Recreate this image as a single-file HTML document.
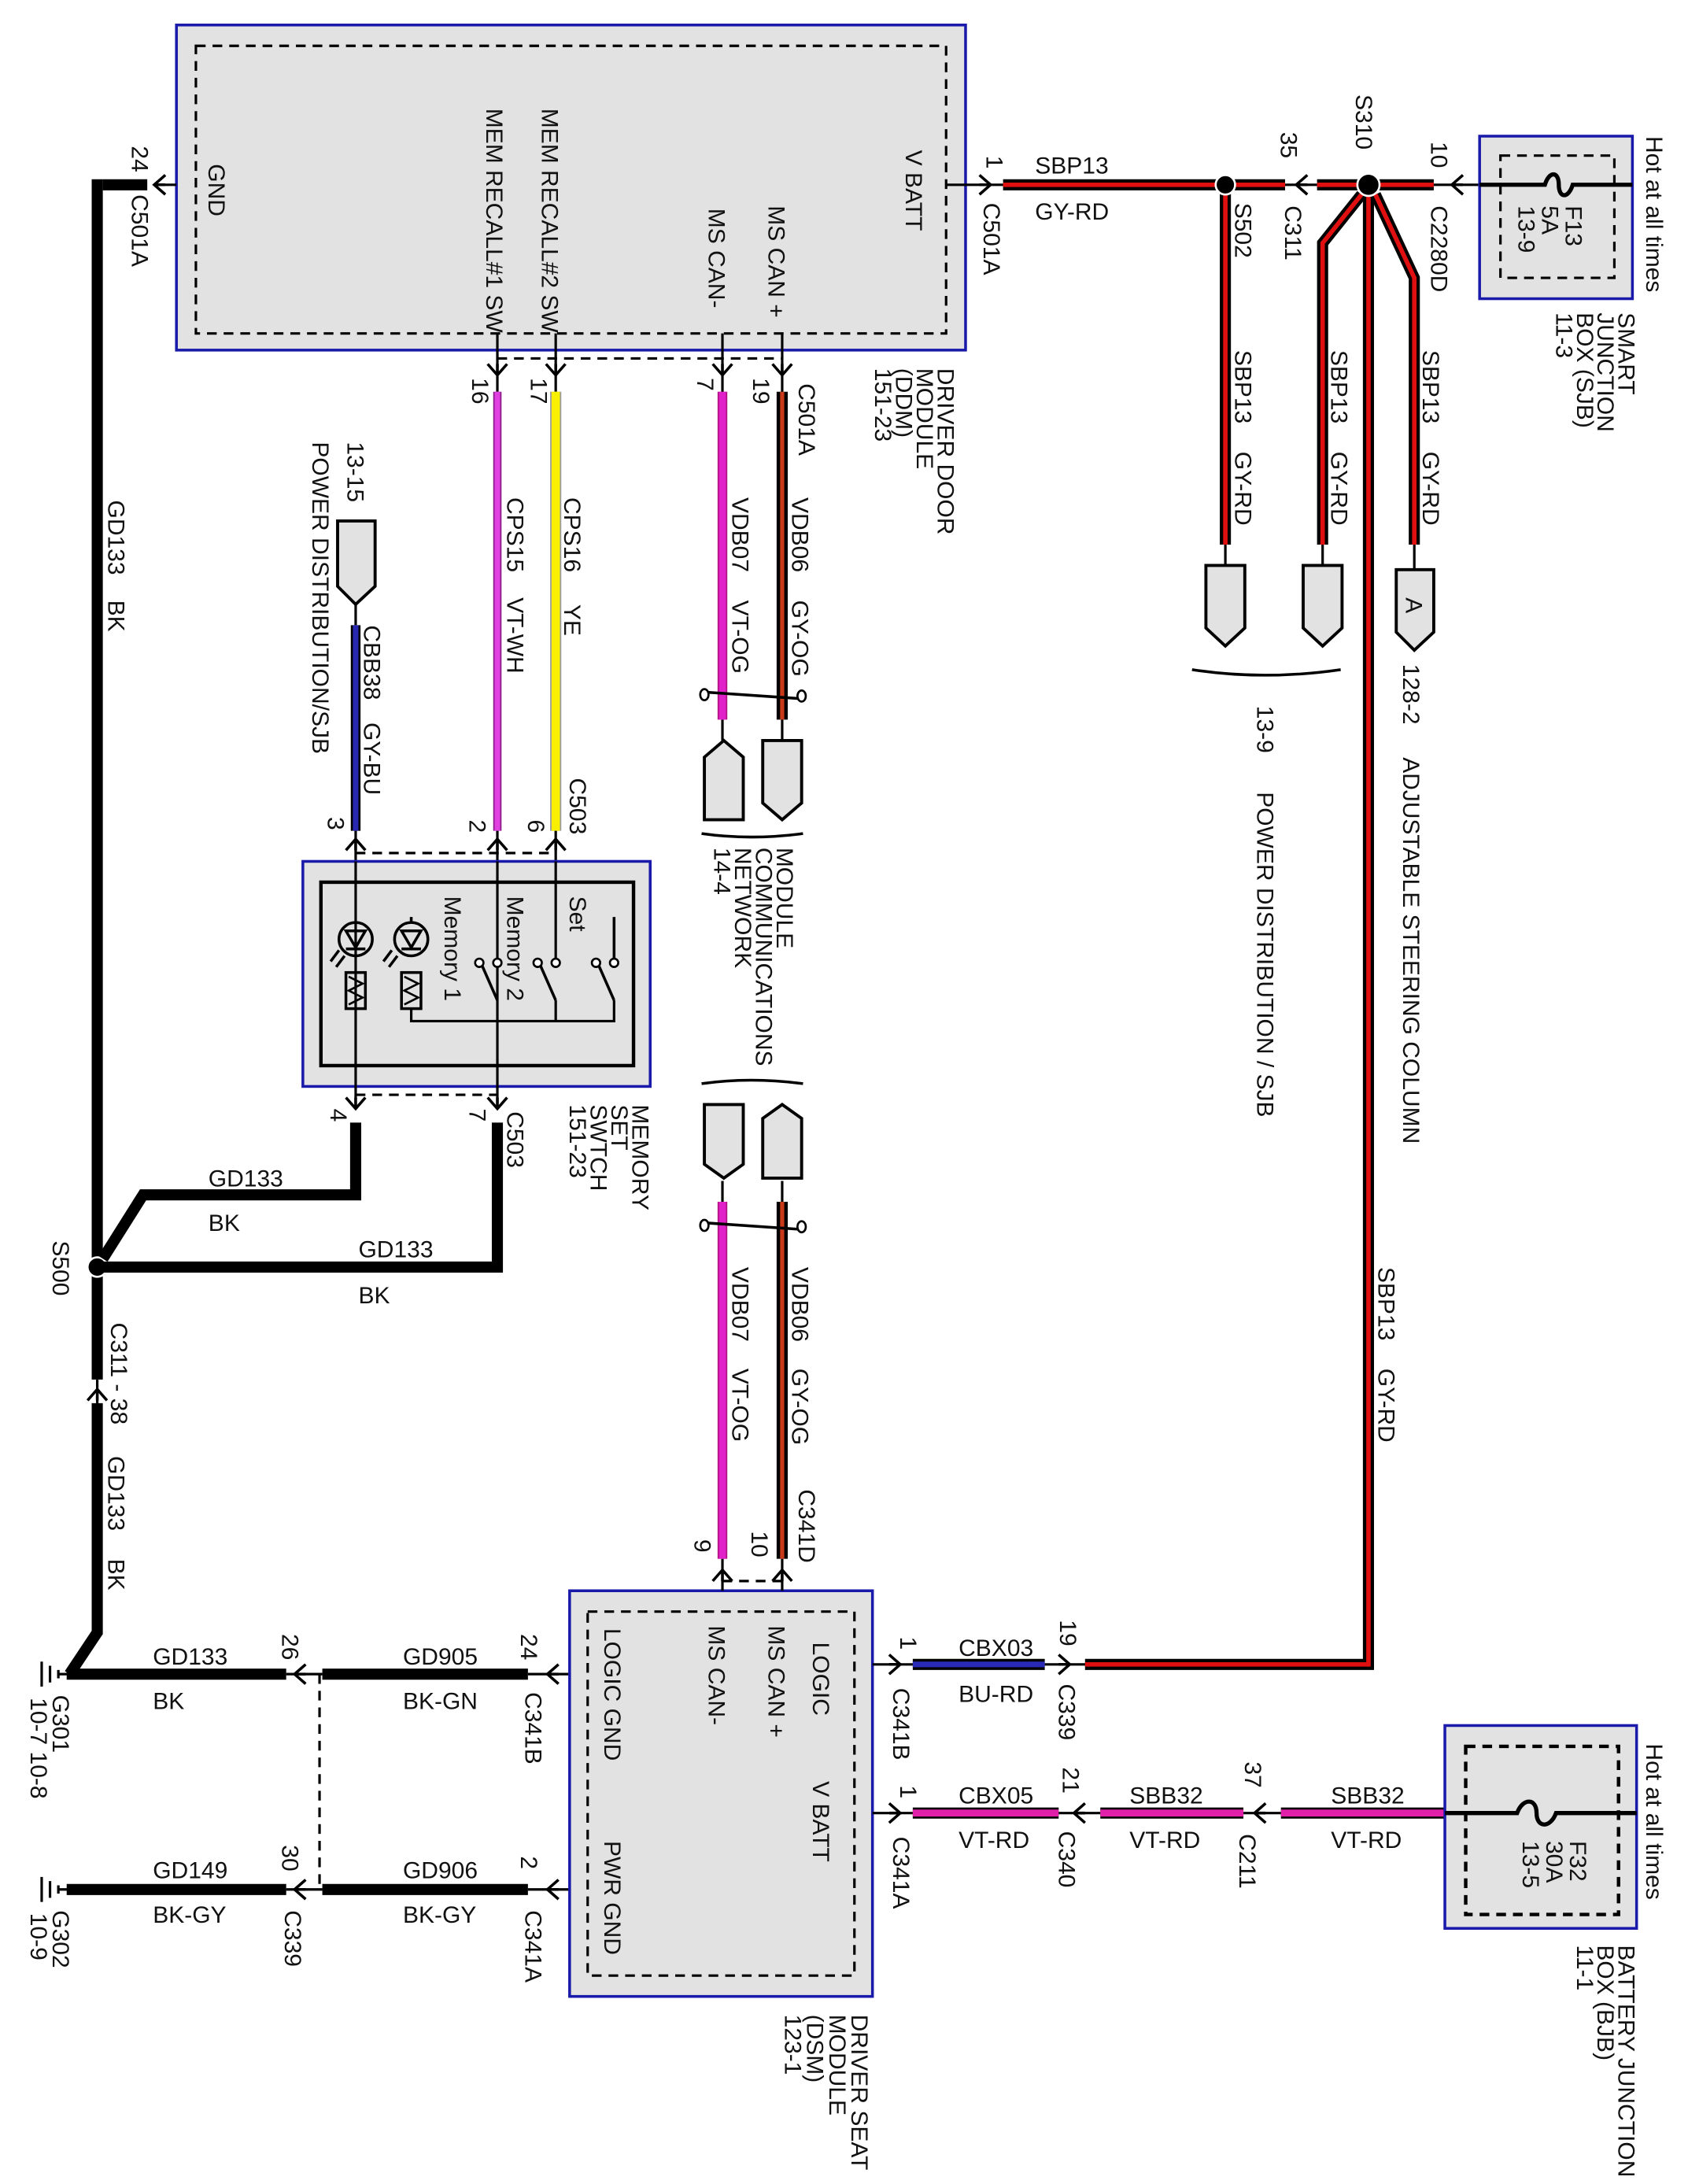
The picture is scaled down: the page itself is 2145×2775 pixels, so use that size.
<!DOCTYPE html>
<html><head><meta charset="utf-8"><style>
html,body{margin:0;padding:0;background:#fff}
svg{display:block}
text{font-family:"Liberation Sans",sans-serif;font-size:17px;fill:#111}
.b{fill:none;stroke:#000;stroke-width:8;stroke-linejoin:miter}
.t{fill:none;stroke:#000;stroke-width:1.8}
.r{fill:none;stroke:#e01010;stroke-width:3.2;stroke-linejoin:miter}
.box{fill:#e2e2e2;stroke:#1a1aaa;stroke-width:2}
.dash{fill:none;stroke:#000;stroke-width:1.8;stroke-dasharray:7 5}
.con{fill:#e2e2e2;stroke:#000;stroke-width:2.2}
</style></head><body>
<svg width="2145" height="2775" viewBox="0 0 1215 1572" preserveAspectRatio="none" xmlns="http://www.w3.org/2000/svg">
<defs>
<g id="cl"><path d="M-6,-7 L2,0 L-6,7 M2,0 L-6,0" fill="none" stroke="#000" stroke-width="2"/></g>
</defs>
<rect width="1215" height="1572" fill="#fff"/>

<!-- DDM -->
<rect class="box" x="127" y="18" width="568" height="234"/>
<rect class="dash" x="141" y="33" width="540" height="207"/>
<g transform="translate(150,118) rotate(90)"><text>GND</text></g>
<g transform="translate(350,78) rotate(90)"><text>MEM RECALL#1 SW</text></g>
<g transform="translate(390,78) rotate(90)"><text>MEM RECALL#2 SW</text></g>
<g transform="translate(510,150) rotate(90)"><text>MS CAN-</text></g>
<g transform="translate(553,148) rotate(90)"><text>MS CAN +</text></g>
<g transform="translate(652,108) rotate(90)"><text>V BATT</text></g>
<g transform="translate(675,265) rotate(90)"><text>DRIVER DOOR</text></g>
<g transform="translate(660,265) rotate(90)"><text>MODULE</text></g>
<g transform="translate(645,265) rotate(90)"><text>(DDM)</text></g>
<g transform="translate(630,265) rotate(90)"><text>151-23</text></g>

<!-- GND left -->
<path class="t" d="M113,133 L127,133"/>
<g transform="translate(113,133) rotate(180)"><use href="#cl"/></g>
<path class="b" d="M74,133 L106,133"/>
<g transform="translate(95,105) rotate(90)"><text>24</text></g>
<g transform="translate(95,140) rotate(90)"><text>C501A</text></g>
<path class="b" d="M70,129 L70,993"/>
<path class="b" d="M70,1010 L70,1175 L50,1205"/>
<path class="t" d="M70,993 L70,1010"/>
<g transform="translate(70,1002) rotate(-90)"><use href="#cl"/></g>
<g transform="translate(78,360) rotate(90)"><text>GD133</text></g>
<g transform="translate(78,432) rotate(90)"><text>BK</text></g>
<g transform="translate(38,893) rotate(90)"><text>S500</text></g>
<g transform="translate(80,952) rotate(90)"><text>C311 - 38</text></g>
<g transform="translate(78,1048) rotate(90)"><text>GD133</text></g>
<g transform="translate(78,1122) rotate(90)"><text>BK</text></g>
<circle cx="70" cy="912" r="7" fill="#000" stroke="#fff" stroke-width="1.5"/>
<path class="b" d="M74,906 L103,860 L256,860 L256,808"/>
<path class="b" d="M74,912 L358,912 L358,808"/>
<text x="150" y="854">GD133</text><text x="150" y="886">BK</text>
<text x="258" y="905">GD133</text><text x="258" y="938">BK</text>

<!-- Grounds -->
<path class="t" d="M30,1196 L30,1214 M36,1199 L36,1211 M42,1202 L42,1208 M42,1205 L50,1205"/>
<path class="t" d="M30,1351 L30,1369 M36,1354 L36,1366 M42,1357 L42,1363 M42,1360 L50,1360"/>
<g transform="translate(38,1220) rotate(90)"><text>G301</text></g>
<g transform="translate(22,1222) rotate(90)"><text>10-7  10-8</text></g>
<g transform="translate(38,1375) rotate(90)"><text>G302</text></g>
<g transform="translate(22,1377) rotate(90)"><text>10-9</text></g>
<path class="b" d="M48,1205 L206,1205"/>
<path class="t" d="M206,1205 L232,1205"/>
<g transform="translate(214,1205) rotate(180)"><use href="#cl"/></g>
<path class="b" d="M232,1205 L380,1205"/>
<path class="t" d="M380,1205 L410,1205"/>
<g transform="translate(396,1205) rotate(180)"><use href="#cl"/></g>
<text x="110" y="1198">GD133</text><text x="110" y="1230">BK</text>
<text x="290" y="1198">GD905</text><text x="290" y="1230">BK-GN</text>
<g transform="translate(203,1176) rotate(90)"><text>26</text></g>
<g transform="translate(375,1176) rotate(90)"><text>24</text></g>
<g transform="translate(378,1218) rotate(90)"><text>C341B</text></g>
<path class="b" d="M48,1360 L206,1360"/>
<path class="t" d="M206,1360 L232,1360"/>
<g transform="translate(214,1360) rotate(180)"><use href="#cl"/></g>
<path class="b" d="M232,1360 L380,1360"/>
<path class="t" d="M380,1360 L410,1360"/>
<g transform="translate(396,1360) rotate(180)"><use href="#cl"/></g>
<text x="110" y="1352">GD149</text><text x="110" y="1384">BK-GY</text>
<text x="290" y="1352">GD906</text><text x="290" y="1384">BK-GY</text>
<g transform="translate(203,1328) rotate(90)"><text>30</text></g>
<g transform="translate(205,1375) rotate(90)"><text>C339</text></g>
<g transform="translate(375,1336) rotate(90)"><text>2</text></g>
<g transform="translate(378,1375) rotate(90)"><text>C341A</text></g>
<path class="dash" d="M230,1205 L230,1360"/>

<!-- DSM -->
<rect class="box" x="410" y="1145" width="218" height="292"/>
<rect class="dash" x="423" y="1160" width="192" height="262"/>
<g transform="translate(435,1172) rotate(90)"><text>LOGIC GND</text></g>
<g transform="translate(510,1170) rotate(90)"><text>MS CAN-</text></g>
<g transform="translate(553,1170) rotate(90)"><text>MS CAN +</text></g>
<g transform="translate(585,1182) rotate(90)"><text>LOGIC</text></g>
<g transform="translate(585,1282) rotate(90)"><text>V BATT</text></g>
<g transform="translate(435,1325) rotate(90)"><text>PWR GND</text></g>
<g transform="translate(613,1450) rotate(90)"><text>DRIVER SEAT</text></g>
<g transform="translate(597,1450) rotate(90)"><text>MODULE</text></g>
<g transform="translate(581,1450) rotate(90)"><text>(DSM)</text></g>
<g transform="translate(565,1450) rotate(90)"><text>123-1</text></g>

<!-- LOGIC wire -->
<path class="t" d="M628,1198 L657,1198"/>
<use href="#cl" transform="translate(646,1198)"/>
<g transform="translate(648,1178) rotate(90)"><text>1</text></g>
<g transform="translate(643,1215) rotate(90)"><text>C341B</text></g>
<path d="M657,1198 L752,1198" stroke="#000" stroke-width="8"/>
<path d="M657,1198 L752,1198" stroke="#2a2ab8" stroke-width="4"/>
<text x="690" y="1192">CBX03</text><text x="690" y="1225">BU-RD</text>
<path class="t" d="M752,1198 L782,1198"/>
<use href="#cl" transform="translate(768,1198)"/>
<g transform="translate(763,1166) rotate(90)"><text>19</text></g>
<g transform="translate(762,1212) rotate(90)"><text>C339</text></g>
<path class="b" d="M781,1198 L985,1198 L985,133"/>
<path class="r" d="M781,1198 L985,1198 L985,140"/>
<g transform="translate(992,912) rotate(90)"><text>SBP13</text></g>
<g transform="translate(992,985) rotate(90)"><text>GY-RD</text></g>

<!-- V BATT DSM -->
<path class="t" d="M628,1305 L657,1305"/>
<use href="#cl" transform="translate(646,1305)"/>
<g transform="translate(648,1285) rotate(90)"><text>1</text></g>
<g transform="translate(643,1322) rotate(90)"><text>C341A</text></g>
<path d="M657,1305 L762,1305" stroke="#000" stroke-width="8"/>
<path d="M657,1305 L762,1305" stroke="#e020a8" stroke-width="5"/>
<text x="690" y="1298">CBX05</text><text x="690" y="1330">VT-RD</text>
<path class="t" d="M762,1305 L792,1305"/>
<g transform="translate(775,1305) rotate(180)"><use href="#cl"/></g>
<g transform="translate(765,1272) rotate(90)"><text>21</text></g>
<g transform="translate(762,1318) rotate(90)"><text>C340</text></g>
<path d="M792,1305 L895,1305" stroke="#000" stroke-width="8"/>
<path d="M792,1305 L895,1305" stroke="#e020a8" stroke-width="5"/>
<text x="813" y="1298">SBB32</text><text x="813" y="1330">VT-RD</text>
<path class="t" d="M895,1305 L922,1305"/>
<g transform="translate(905,1305) rotate(180)"><use href="#cl"/></g>
<g transform="translate(896,1268) rotate(90)"><text>37</text></g>
<g transform="translate(892,1320) rotate(90)"><text>C211</text></g>
<path d="M922,1305 L1040,1305" stroke="#000" stroke-width="8"/>
<path d="M922,1305 L1040,1305" stroke="#e020a8" stroke-width="5"/>
<text x="958" y="1298">SBB32</text><text x="958" y="1330">VT-RD</text>

<!-- BJB -->
<rect class="box" x="1040" y="1242" width="138" height="146"/>
<rect class="dash" x="1055" y="1257" width="110" height="121" style="stroke-width:2.5"/>
<path d="M1040,1305 L1092,1305 C1096,1294 1106,1294 1106,1305 C1106,1316 1116,1316 1120,1305 L1178,1305" fill="none" stroke="#000" stroke-width="3"/>
<g transform="translate(1130,1325) rotate(90)"><text>F32</text></g>
<g transform="translate(1113,1325) rotate(90)"><text>30A</text></g>
<g transform="translate(1096,1325) rotate(90)"><text>13-5</text></g>
<g transform="translate(1185,1255) rotate(90)"><text>Hot at all times</text></g>
<g transform="translate(1165,1400) rotate(90)"><text>BATTERY JUNCTION</text></g>
<g transform="translate(1150,1400) rotate(90)"><text>BOX (BJB)</text></g>
<g transform="translate(1135,1400) rotate(90)"><text>11-1</text></g>

<!-- DSM top pins -->
<path class="t" d="M520,1122 L520,1145 M563,1122 L563,1145"/>
<g transform="translate(520,1132) rotate(-90)"><use href="#cl"/></g>
<g transform="translate(563,1132) rotate(-90)"><use href="#cl"/></g>
<path class="dash" d="M520,1138 L563,1138"/>
<g transform="translate(500,1108) rotate(90)"><text>9</text></g>
<g transform="translate(541,1102) rotate(90)"><text>10</text></g>
<g transform="translate(575,1072) rotate(90)"><text>C341D</text></g>

<!-- lower VDB wires -->
<path d="M520,865 L520,1122" stroke="#b01080" stroke-width="7"/>
<path d="M520,865 L520,1122" stroke="#e020c8" stroke-width="5"/>
<path d="M563,865 L563,1122" stroke="#000" stroke-width="8"/>
<path d="M563,865 L563,1122" stroke="#c83a1a" stroke-width="3"/>
<path class="t" d="M520,850 L520,865 M563,850 L563,865"/>
<path d="M505,880 L578,885" stroke="#000" stroke-width="2" fill="none"/>
<ellipse cx="507" cy="882" rx="3" ry="4" fill="#fff" stroke="#000" stroke-width="1.5"/>
<ellipse cx="577" cy="883" rx="3" ry="4" fill="#fff" stroke="#000" stroke-width="1.5"/>
<g transform="translate(527,912) rotate(90)"><text>VDB07</text></g>
<g transform="translate(527,985) rotate(90)"><text>VT-OG</text></g>
<g transform="translate(570,912) rotate(90)"><text>VDB06</text></g>
<g transform="translate(570,985) rotate(90)"><text>GY-OG</text></g>
<path class="con" d="M507,795 L535,795 L535,838 L521,848 L507,838 Z"/>
<path class="con" d="M549,805 L563,795 L577,805 L577,848 L549,848 Z"/>
<path d="M505,780 Q540,775 578,780" fill="none" stroke="#000" stroke-width="2"/>

<!-- MCN labels -->
<g transform="translate(559,610) rotate(90)"><text>MODULE</text></g>
<g transform="translate(544,610) rotate(90)"><text>COMMUNICATIONS</text></g>
<g transform="translate(529,610) rotate(90)"><text>NETWORK</text></g>
<g transform="translate(514,610) rotate(90)"><text>14-4</text></g>
<path d="M505,600 Q540,605 578,600" fill="none" stroke="#000" stroke-width="2"/>
<path class="con" d="M507,545 L521,533 L535,545 L535,590 L507,590 Z"/>
<path class="con" d="M549,533 L577,533 L577,578 L563,590 L549,578 Z"/>
<path class="t" d="M520,518 L520,533 M563,518 L563,533"/>

<!-- upper VDB wires -->
<path d="M520,282 L520,518" stroke="#b01080" stroke-width="7"/>
<path d="M520,282 L520,518" stroke="#e020c8" stroke-width="5"/>
<path d="M563,282 L563,518" stroke="#000" stroke-width="8"/>
<path d="M563,282 L563,518" stroke="#c83a1a" stroke-width="3"/>
<path d="M505,498 L578,503" stroke="#000" stroke-width="2" fill="none"/>
<ellipse cx="507" cy="500" rx="3" ry="4" fill="#fff" stroke="#000" stroke-width="1.5"/>
<ellipse cx="577" cy="501" rx="3" ry="4" fill="#fff" stroke="#000" stroke-width="1.5"/>
<g transform="translate(527,358) rotate(90)"><text>VDB07</text></g>
<g transform="translate(527,432) rotate(90)"><text>VT-OG</text></g>
<g transform="translate(570,358) rotate(90)"><text>VDB06</text></g>
<g transform="translate(570,432) rotate(90)"><text>GY-OG</text></g>

<!-- DDM bottom pins -->
<path class="t" d="M358,240 L358,282 M400,240 L400,282 M520,240 L520,282 M563,240 L563,282"/>
<g transform="translate(358,268) rotate(90)"><use href="#cl"/></g>
<g transform="translate(400,268) rotate(90)"><use href="#cl"/></g>
<g transform="translate(520,268) rotate(90)"><use href="#cl"/></g>
<g transform="translate(563,268) rotate(90)"><use href="#cl"/></g>
<path class="dash" d="M358,258 L563,258"/>
<g transform="translate(340,272) rotate(90)"><text>16</text></g>
<g transform="translate(382,272) rotate(90)"><text>17</text></g>
<g transform="translate(502,272) rotate(90)"><text>7</text></g>
<g transform="translate(542,272) rotate(90)"><text>19</text></g>
<g transform="translate(575,276) rotate(90)"><text>C501A</text></g>

<!-- CPS wires -->
<path d="M358,282 L358,598" stroke="#8a1a8a" stroke-width="6"/>
<path d="M358,282 L358,598" stroke="#e040e0" stroke-width="4"/>
<path d="M400,282 L400,598" stroke="#999" stroke-width="8"/>
<path d="M400,282 L400,598" stroke="#f8f000" stroke-width="6"/>
<g transform="translate(365,358) rotate(90)"><text>CPS15</text></g>
<g transform="translate(365,430) rotate(90)"><text>VT-WH</text></g>
<g transform="translate(406,358) rotate(90)"><text>CPS16</text></g>
<g transform="translate(406,435) rotate(90)"><text>YE</text></g>
<g transform="translate(410,560) rotate(90)"><text>C503</text></g>

<!-- CBB38 -->
<path class="con" d="M243,375 L270,375 L270,422 L256,435 L243,422 Z"/>
<path class="t" d="M256,435 L256,450"/>
<path d="M256,450 L256,598" stroke="#000" stroke-width="7"/>
<path d="M256,450 L256,598" stroke="#2828b0" stroke-width="4"/>
<g transform="translate(250,318) rotate(90)"><text>13-15</text></g>
<g transform="translate(225,318) rotate(90)"><text>POWER DISTRIBUTION/SJB</text></g>
<g transform="translate(262,450) rotate(90)"><text>CBB38</text></g>
<g transform="translate(262,520) rotate(90)"><text>GY-BU</text></g>

<!-- Memory switch top pins -->
<path class="t" d="M256,598 L256,635 M358,598 L358,635 M400,598 L400,635"/>
<g transform="translate(256,606) rotate(-90)"><use href="#cl"/></g>
<g transform="translate(358,606) rotate(-90)"><use href="#cl"/></g>
<g transform="translate(400,606) rotate(-90)"><use href="#cl"/></g>
<path class="dash" d="M256,614 L400,614"/>
<g transform="translate(236,588) rotate(90)"><text>3</text></g>
<g transform="translate(338,590) rotate(90)"><text>2</text></g>
<g transform="translate(380,590) rotate(90)"><text>6</text></g>

<!-- Memory switch -->
<rect class="box" x="218" y="620" width="250" height="162"/>
<rect x="231" y="635" width="225" height="132" fill="none" stroke="#000" stroke-width="2.5"/>
<path class="t" d="M256,620 L256,795 M358,620 L358,795 M400,620 L400,690"/>
<g transform="translate(320,645) rotate(90)"><text>Memory 1</text></g>
<g transform="translate(365,645) rotate(90)"><text>Memory 2</text></g>
<g transform="translate(410,645) rotate(90)"><text>Set</text></g>
<circle cx="256" cy="676" r="12" fill="none" stroke="#000" stroke-width="2"/>
<path d="M249,670 L263,670 L256,682 Z M249,683 L263,683" fill="none" stroke="#000" stroke-width="2"/>
<circle cx="296" cy="676" r="12" fill="none" stroke="#000" stroke-width="2"/>
<path d="M289,670 L303,670 L296,682 Z M289,683 L303,683 M296,660 L296,664" fill="none" stroke="#000" stroke-width="2"/>
<path d="M244,684 L238,692 M248,688 L242,696 M282,684 L276,692 M286,688 L280,696" stroke="#000" stroke-width="2"/>
<rect x="249" y="700" width="14" height="26" fill="none" stroke="#000" stroke-width="2"/>
<rect x="289" y="700" width="14" height="26" fill="none" stroke="#000" stroke-width="2"/>
<path d="M251,703 L261,708 L251,713 L261,718 L251,723 M291,703 L301,708 L291,713 L301,718 L291,723" fill="none" stroke="#000" stroke-width="1.5"/>
<path class="t" d="M296,726 L296,735 L442,735 L442,720 M400,735 L400,720"/>
<circle cx="358" cy="693" r="3" fill="#fff" stroke="#000" stroke-width="1.5"/>
<circle cx="345" cy="693" r="3" fill="#fff" stroke="#000" stroke-width="1.5"/>
<path d="M347,695 L358,720" stroke="#000" stroke-width="2"/>
<circle cx="400" cy="693" r="3" fill="#fff" stroke="#000" stroke-width="1.5"/>
<circle cx="387" cy="693" r="3" fill="#fff" stroke="#000" stroke-width="1.5"/>
<path d="M389,695 L400,720" stroke="#000" stroke-width="2"/>
<circle cx="442" cy="693" r="3" fill="#fff" stroke="#000" stroke-width="1.5"/>
<circle cx="429" cy="693" r="3" fill="#fff" stroke="#000" stroke-width="1.5"/>
<path d="M431,695 L442,720 M442,660 L442,690" stroke="#000" stroke-width="2"/>

<!-- Memory switch bottom -->
<path class="dash" d="M256,788 L358,788"/>
<g transform="translate(256,796) rotate(90)"><use href="#cl"/></g>
<g transform="translate(358,796) rotate(90)"><use href="#cl"/></g>
<g transform="translate(238,798) rotate(90)"><text>4</text></g>
<g transform="translate(338,798) rotate(90)"><text>7</text></g>
<g transform="translate(365,800) rotate(90)"><text>C503</text></g>
<g transform="translate(455,795) rotate(90)"><text>MEMORY</text></g>
<g transform="translate(440,795) rotate(90)"><text>SET</text></g>
<g transform="translate(425,795) rotate(90)"><text>SWTCH</text></g>
<g transform="translate(410,795) rotate(90)"><text>151-23</text></g>

<!-- V BATT top -->
<path class="t" d="M681,133 L722,133"/>
<use href="#cl" transform="translate(711,133)"/>
<g transform="translate(710,112) rotate(90)"><text>1</text></g>
<g transform="translate(708,146) rotate(90)"><text>C501A</text></g>
<path class="b" d="M722,133 L925,133"/>
<path class="r" d="M722,133 L925,133"/>
<text x="745" y="125">SBP13</text><text x="745" y="158">GY-RD</text>
<path class="t" d="M925,133 L948,133"/>
<g transform="translate(935,133) rotate(180)"><use href="#cl"/></g>
<g transform="translate(922,95) rotate(90)"><text>35</text></g>
<g transform="translate(925,148) rotate(90)"><text>C311</text></g>
<path class="b" d="M948,133 L1032,133"/>
<path class="r" d="M948,133 L1032,133"/>
<path class="t" d="M1032,133 L1175,133"/>
<g transform="translate(1047,133) rotate(180)"><use href="#cl"/></g>
<g transform="translate(1030,102) rotate(90)"><text>10</text></g>
<g transform="translate(1030,148) rotate(90)"><text>C2280D</text></g>
<path class="b" d="M882,133 L882,392"/>
<path class="r" d="M882,140 L882,392"/>
<circle cx="882" cy="133" r="7" fill="#000" stroke="#fff" stroke-width="1.5"/>
<g transform="translate(889,146) rotate(90)"><text>S502</text></g>
<g transform="translate(889,252) rotate(90)"><text>SBP13</text></g>
<g transform="translate(889,325) rotate(90)"><text>GY-RD</text></g>
<path class="b" d="M980,140 L952,175 L952,392"/>
<path class="r" d="M980,140 L952,175 L952,392"/>
<path class="b" d="M990,140 L1018,200 L1018,392"/>
<path class="r" d="M990,140 L1018,200 L1018,392"/>
<circle cx="985" cy="133" r="8" fill="#000" stroke="#fff" stroke-width="1.5"/>
<g transform="translate(976,68) rotate(90)"><text>S310</text></g>
<g transform="translate(958,252) rotate(90)"><text>SBP13</text></g>
<g transform="translate(958,325) rotate(90)"><text>GY-RD</text></g>
<g transform="translate(1024,252) rotate(90)"><text>SBP13</text></g>
<g transform="translate(1024,325) rotate(90)"><text>GY-RD</text></g>
<path class="t" d="M882,392 L882,407 M952,392 L952,407 M1018,392 L1018,410"/>
<path class="con" d="M868,407 L896,407 L896,452 L882,465 L868,452 Z"/>
<path class="con" d="M938,407 L966,407 L966,452 L952,465 L938,452 Z"/>
<path class="con" d="M1005,410 L1032,410 L1032,455 L1018,468 L1005,455 Z"/>
<g transform="translate(1012,430) rotate(90)"><text>A</text></g>
<g transform="translate(1010,478) rotate(90)"><text>128-2</text></g>
<path d="M858,482 Q910,490 965,482" fill="none" stroke="#000" stroke-width="2"/>
<g transform="translate(905,508) rotate(90)"><text>13-9</text></g>
<g transform="translate(905,570) rotate(90)"><text>POWER DISTRIBUTION / SJB</text></g>
<g transform="translate(1010,545) rotate(90)"><text>ADJUSTABLE STEERING COLUMN</text></g>

<!-- SJB -->
<rect class="box" x="1065" y="98" width="110" height="117"/>
<rect class="dash" x="1080" y="112" width="82" height="88"/>
<path d="M1065,133 L1112,133 C1115,123 1122,123 1122,133 C1122,143 1129,143 1132,133 L1175,133" fill="none" stroke="#000" stroke-width="3"/>
<g transform="translate(1127,148) rotate(90)"><text>F13</text></g>
<g transform="translate(1110,148) rotate(90)"><text>5A</text></g>
<g transform="translate(1093,148) rotate(90)"><text>13-9</text></g>
<g transform="translate(1185,98) rotate(90)"><text>Hot at all times</text></g>
<g transform="translate(1165,225) rotate(90)"><text>SMART</text></g>
<g transform="translate(1150,225) rotate(90)"><text>JUNCTION</text></g>
<g transform="translate(1135,225) rotate(90)"><text>BOX (SJB)</text></g>
<g transform="translate(1120,225) rotate(90)"><text>11-3</text></g>
</svg>
</body></html>
